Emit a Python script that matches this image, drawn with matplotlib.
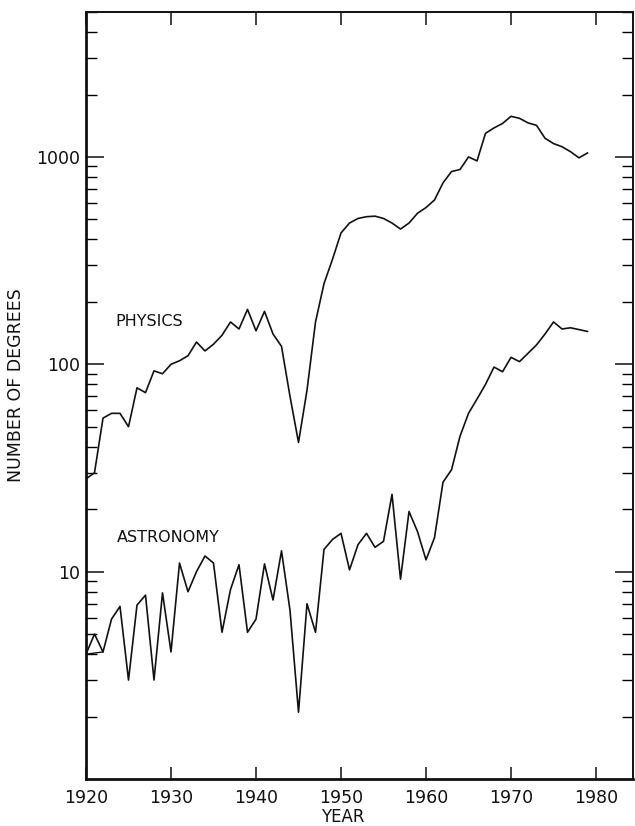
import numpy as np
import matplotlib
matplotlib.use("Agg")
import matplotlib.pyplot as plt
from matplotlib.ticker import FixedLocator, NullFormatter, LogLocator

years = np.arange(1920, 1980)

physics = [28, 30, 55, 58, 58, 50, 77, 73, 93, 90,
           100, 104, 110, 128, 116, 125, 138, 160, 148, 184,
           145, 180, 140, 122, 70, 42, 75, 160, 245, 321,
           430, 480, 505, 515, 518, 505, 480, 449, 480, 535,
           570, 620, 750, 850, 870, 1000, 957, 1300, 1380, 1450,
           1570, 1535, 1460, 1420, 1230, 1160, 1120, 1060, 990, 1045]

astronomy = [4.0, 5.0, 4.1, 5.9, 6.8, 3.0, 6.9, 7.7, 3.0, 7.9,
             4.1, 11.0, 8.0, 10.0, 11.9, 11.0, 5.1, 8.2, 10.8, 5.1,
             5.9, 10.9, 7.3, 12.6, 6.5, 2.1, 7.0, 5.1, 12.8, 14.3,
             15.3, 10.2, 13.5, 15.3, 13.1, 14.0, 23.6, 9.2, 19.5, 15.6,
             11.4, 14.6, 27.0, 31.0, 45.0, 58.0, 68.0, 80.0, 97.0, 92.0,
             108.0, 103.0, 113.0, 124.0, 140.0, 160.0, 148.0, 150.0, 147.0, 144.0]

ytick_vals = [10, 100, 1000]
ytick_labels = ["10", "100", "1000"]
xtick_vals = [1920, 1930, 1940, 1950, 1960, 1970, 1980]

ink = "#111111"

fig = plt.figure(figsize=(6.35, 8.26), dpi=100)
ax = fig.add_axes([86 / 635, 47 / 826, 547 / 635, 767 / 826])

ax.plot(years, physics, color=ink, lw=1.2)
ax.plot(years, astronomy, color=ink, lw=1.2)
# little closing stroke under the first astronomy points
ax.plot(years[[0, 2]], [astronomy[0], astronomy[2]], color=ink, lw=1.0)

ax.set_yscale("log")
ax.set_ylim(1, 5000)
ax.set_xlim(1920, 1984.35)

ax.yaxis.set_major_locator(FixedLocator(ytick_vals))
ax.set_yticklabels(ytick_labels)
ax.yaxis.set_minor_locator(LogLocator(base=10, subs=np.arange(2, 10)))
ax.yaxis.set_minor_formatter(NullFormatter())
ax.set_xticks(xtick_vals)
ax.set_xticklabels([str(v) for v in xtick_vals])

ax.tick_params(axis="y", which="major", direction="in", length=13, width=1.1,
               left=True, right=True, labelsize=12.5, pad=4, colors=ink)
ax.tick_params(axis="y", which="minor", direction="in", length=8, width=1.0,
               left=True, right=True)
ax.tick_params(axis="x", which="major", direction="in", length=9, width=1.1,
               top=True, bottom=True, labelsize=12.5, pad=7, colors=ink)

for side in ["left", "bottom"]:
    ax.spines[side].set_linewidth(2.0)
for side in ["top", "right"]:
    ax.spines[side].set_linewidth(1.4)
for s in ax.spines.values():
    s.set_color(ink)

ax.text(1923.4, 160, "PHYSICS", fontsize=11.5, color=ink, va="center")
ax.text(1923.6, 14.6, "ASTRONOMY", fontsize=11.5, color=ink, va="center")

ax.set_ylabel("NUMBER OF DEGREES", fontsize=12.5, color=ink)
ax.yaxis.set_label_coords(-(86 - 25) / 547, (779 - 385) / 767)
ax.set_xlabel("YEAR", fontsize=12, color=ink)
ax.xaxis.set_label_coords((343 - 86) / 547, -0.038)

fig.savefig("out.png", dpi=100, facecolor="white")
